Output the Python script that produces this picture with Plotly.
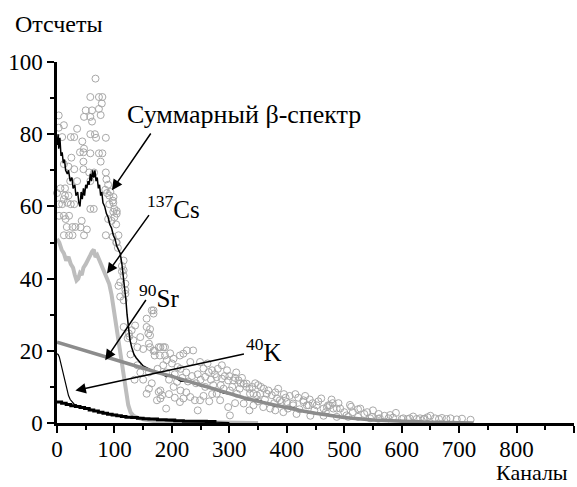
import plotly.graph_objects as go

# ---- measured spectrum (open circles) ----
meas_x = [67,58,73,79,78,50,61,73,47,58,76,61,3,12,3,35,9,24,30,58,66,44,47,68,85,40,46,58,73,79,
          46,76,25,12,30,46,20,56,64.5,85,35,23,58,86,89,14,6,0,14,20,84,87,12,18,24,30,3.5,9,91,97,
          91,100,58,64,12,21,15,89,100,41,103,12,21,27,47,85,97,103,106,3.5,17,27,32,43,52,104,98,95,93,98.4,
          98,104,107,104,116,113,113,116,110,107,110,119,116,116,119,119,
          116,125,133,145,156,168,162,180,188,203,214,226,237,177,180,156,168,156,162,159,136,130,123,126,140,150,160,170,
          165,162,168,177,185,170,179,188,197,220,191,200,232,249,255,264,270,287,296,180,183,174,214,220,203,209,
          232,240,249,278,287,298,307,316,330,290,301,313,278,284,298,301,336,348,365,374,325,342,359,371,388,400,
          411,429,435,452,464,475,487,493,394,417,441,464,487,325,330,342,354,383,391,411,429,438,472,481,524,507,
          524,545,562,577,603,614,632,658,696,600,611,626,638,678,528,504,470,548,559,
          215,225,245,258,268,275,300,310,320,340,350,360,380,395,405,420,440,455,480,510,515,540,560,580,620,645,670,705,720,
          190,195,205,210,218,228,235,242,250,258,262,272,280,285,292,305,312,318,322,335,345,355,362,368,378,385,398,402,
          415,422,432,445,448,460,468,478,490,500,512,535,550,570,585,590,640,665,685,650,150,160,165,175,185,195,205,215,
          225,255,265,270,190,245,310,335,350,380,160,140,145,128,135]
meas_y = [95.4,90.3,90.3,90.3,88.5,86.6,86.6,87,84.8,84.8,85.3,83.5,85.2,82.5,81.8,81.5,79.2,79.2,79.2,80,80,78,76,79,79,75,75,74.7,74.7,74.7,
          72.4,72.4,73.5,71.7,70.3,70.3,71,69.4,69.4,69.4,67,67,67,67.5,66,65,65,63.7,63,63,64.6,63.7,62,61,60.6,60.6,60.6,60.6,63,61.6,
          60.6,59.3,59.3,59.3,57.4,57.4,56.5,56.5,57,54.2,55,52,52,52,52,52,51.6,50,48.5,57.4,54.3,54.3,54.3,56,53.6,58,58.5,56,64,62.6,
          61,58.7,52,50,45,43.5,42,40.8,39,38,35,36.8,34,42.3,38.6,35.8,
          26.6,24.8,22.9,23.8,26.6,30.3,21,21,21,17.8,18.7,20.1,20.1,8.6,6.8,8.1,31.2,28.9,26,24.8,27,25.7,23.5,24,21,20.5,22,20,
          31.2,24.3,20,21,21,18.7,18.7,18.7,19.3,19.2,17.4,16.5,16.9,16.9,15.1,14.1,14.6,16,14.6,9,7.7,6.3,5.8,6.8,10,11.4,
          7.2,6.3,6.3,12.7,12.3,11.8,11.8,11.8,10.9,9.5,9,8.1,8.1,6.3,4.4,2.1,8.1,7.7,8.1,7.7,5.4,4.9,4.4,4,6.3,5.8,
          5.4,6.3,4.9,4.9,4,4.9,4,4,3,2.5,2,2,1.7,10.9,10,8.1,8.1,6.8,5.8,4.9,5.8,4.9,4.9,4,3.8,1.7,
          1.7,1.3,1.3,1.3,1.3,1.3,1.3,1.3,1,1.1,1.1,1.1,1.1,1.1,4,2.1,4.4,1.7,1.2,
          15,14,13.5,12.8,12,13.5,13,12.5,11,10,10.5,9.5,8.5,8,7.5,7,6.5,6,5.5,5,3,3,2.5,2.2,1.8,1.6,1.4,1.2,0.9,
          14,12,13.5,15.5,12.5,11.5,13,11,12,10,16.5,10.5,15,10.5,13,10,14,9.5,12.5,9.5,11,10,6.5,9,5.5,9.5,7,4,
          8,3.8,7.5,5.5,3.5,6.8,3,6.5,5.5,3,4.5,2.5,3.5,2,1.5,2.8,1.2,1.1,1.3,2,12,14,11,15,16,8,7,9,
          8.5,7.5,6,8,4,3.5,5.5,3.5,6,3.5,9.5,16,14,19,12]

# ---- total beta spectrum (black line) ----
sum_x = [0,2,3,5,7,9,11,13,15,18,20,23,26,28,31,33,36,38,40,42,44,46,48,50,52,54,56,58,60,62,64,66,68,70,72,74,76,78,80,
         83,86,89,92,95,98,101,104,107,110,113,116,118,120,122,124,127,130,134,138,143,150,160,170,180,190,200,215,230,
         250,270,290,310,330,350,380,410,440,470,500,530,560,600,650,700,720]
sum_y = [77,80,76,79,74,75,72,73,70,69,70,67,68,65,66,63,64,61,60,64,62,65,63,66,65,67,66,69,67,70,68,70,67,68,65,66,63,64,61,
         60,58,57,55,54,52,51,49,48,47,44,40,37,34,30,27,23,21,19,18,17,15.8,15.0,14.0,13.9,12.9,13.2,11.6,11.4,
         10.3,9.6,8.3,7.8,6.5,6.3,4.7,4.2,2.8,2.4,1.4,1.2,0.7,0.6,0.2,0.15,0]

# ---- 137Cs (light grey) ----
cs_x = [0,4,8,12,16,20,24,28,31,34,37,40,43,46,50,54,58,61,64,67,70,74,78,82,87,91,95,99,102,106,110,114,118,121,
        124,128,133,140,150,170,200,260,300,350]
cs_y = [51,50,48,47,45,46,44,43,41,39.5,40,41.5,41,43,44,45,46.5,47.5,48,46,46.5,45,43.5,42,40,38.5,35.5,31.5,28,24,20,15.5,11.5,8,
        5,3,2,1.5,1,0.5,0.3,0.2,0.1,0]

# ---- 90Sr (dark grey) ----
sr_x = [0,25,50,75,100,125,150,175,200,225,250,275,300,325,350,375,400,425,450,475,500,550,600,650,700,725]
sr_y = [22.4,21.2,20,18.8,17.5,16.3,15,14,12.9,11.7,10.5,9.2,8,7,6,5.1,4.2,3.4,2.7,2.1,1.5,0.8,0.4,0.2,0.05,0]

# ---- 40K (thin black) ----
k_x = [0,2,4,6,8,10,12,14,16,18,20,23,26,30,35,45,60,80,100,130,160,200,250,300]
k_y = [19.2,19,18.3,17,15.5,14,12.5,11,9.8,8.7,7.6,6.5,5.8,5.2,4.9,4.4,3.8,2.8,2.1,1.5,1.1,0.6,0.3,0.1]

# ---- 40K measured (thick black, stepped) ----
km_x = [0,8,16,24,32,40,48,56,64,72,80,88,96,104,112,120,130,140,150,160,175,190,205,220,240,260,275]
km_y = [5.8,5.5,5.1,4.8,4.6,4.3,4.0,3.6,3.3,3.0,2.7,2.4,2.2,2.0,1.8,1.6,1.5,1.3,1.2,1.1,0.9,0.8,0.6,0.5,0.5,0.4,0]

x_ticks = [0,100,200,300,400,500,600,700,800,900]
x_ticktext = ["0","100","200","300","400","500","600","700","800",""]
y_ticks = [0,20,40,60,80,100]

FONT = "Liberation Serif, Times New Roman, serif"

fig = go.Figure()
fig.add_trace(go.Scatter(x=meas_x, y=meas_y, mode="markers",
                         marker=dict(symbol="circle-open", size=7, color="#a8a8a8", line=dict(width=1)),
                         cliponaxis=False, showlegend=False))
fig.add_trace(go.Scatter(x=cs_x, y=cs_y, mode="lines", line=dict(color="#bdbdbd", width=4), showlegend=False))
fig.add_trace(go.Scatter(x=sum_x, y=sum_y, mode="lines", line=dict(color="black", width=1.5), showlegend=False))
fig.add_trace(go.Scatter(x=sr_x, y=sr_y, mode="lines", line=dict(color="#8c8c8c", width=3.5), showlegend=False))
fig.add_trace(go.Scatter(x=km_x, y=km_y, mode="lines", line=dict(color="black", width=3, shape="hv"), showlegend=False))
fig.add_trace(go.Scatter(x=k_x, y=k_y, mode="lines", line=dict(color="black", width=1.2), showlegend=False))

arrows = [
    (95.7, 64.5, 165, 80.6),
    (87, 41.4, 162, 58),
    (84, 17.4, 156.5, 34.5),
    (32, 9, 328, 19.2),
]
for hx, hy, tx, ty in arrows:
    fig.add_annotation(x=hx, y=hy, ax=tx, ay=ty, xref="x", yref="y", axref="x", ayref="y",
                       text="", showarrow=True, arrowhead=2, arrowsize=1.4, arrowwidth=1.5, arrowcolor="black")

labels = [
    ("Суммарный β-спектр", 325, 85.4, "center", 26),
    ("<sup>137</sup>Cs", 154, 59.8, "left", 25),
    ("<sup>90</sup>Sr", 140, 35.3, "left", 25),
    ("<sup>40</sup>K", 326, 20.2, "left", 25),
]
for t, x, y, xa, sz in labels:
    fig.add_annotation(x=x, y=y, xref="x", yref="y", text=t, showarrow=False, xanchor=xa, yanchor="middle",
                       font=dict(family=FONT, size=sz, color="black"))

fig.add_annotation(x=-0.085, y=1.105, xref="paper", yref="paper", text="Отсчеты", showarrow=False,
                   xanchor="left", yanchor="middle", font=dict(family=FONT, size=24, color="black"))
fig.add_annotation(x=0.993, y=-0.138, xref="paper", yref="paper", text="Каналы", showarrow=False,
                   xanchor="right", yanchor="middle", font=dict(family=FONT, size=22, color="black"))

fig.update_layout(
    width=577, height=487,
    margin=dict(l=57, r=3, t=62, b=64),
    paper_bgcolor="white", plot_bgcolor="white",
    font=dict(family=FONT, size=22, color="black"),
)
fig.update_xaxes(range=[0, 900], tickvals=x_ticks, ticktext=x_ticktext, showgrid=False, zeroline=False,
                 showline=True, linecolor="black", linewidth=2.5, ticks="outside", ticklen=7, tickwidth=2,
                 tickcolor="black", ticklabelstandoff=-3,
                 minor=dict(tickvals=[50,150,250,350,450,550,650,750,850], ticklen=4,
                 tickwidth=2, tickcolor="black", ticks="outside"),
                 tickfont=dict(family=FONT, size=23, color="black"))
fig.update_yaxes(range=[0, 100], tickvals=y_ticks, showgrid=False, zeroline=False,
                 showline=True, linecolor="black", linewidth=2.5, ticks="outside", ticklen=7, tickwidth=2,
                 tickcolor="black", minor=dict(tickvals=[10,30,50,70,90], ticklen=4, tickwidth=2,
                 tickcolor="black", ticks="outside"),
                 tickfont=dict(family=FONT, size=23, color="black"))

fig.write_html("out.html")
